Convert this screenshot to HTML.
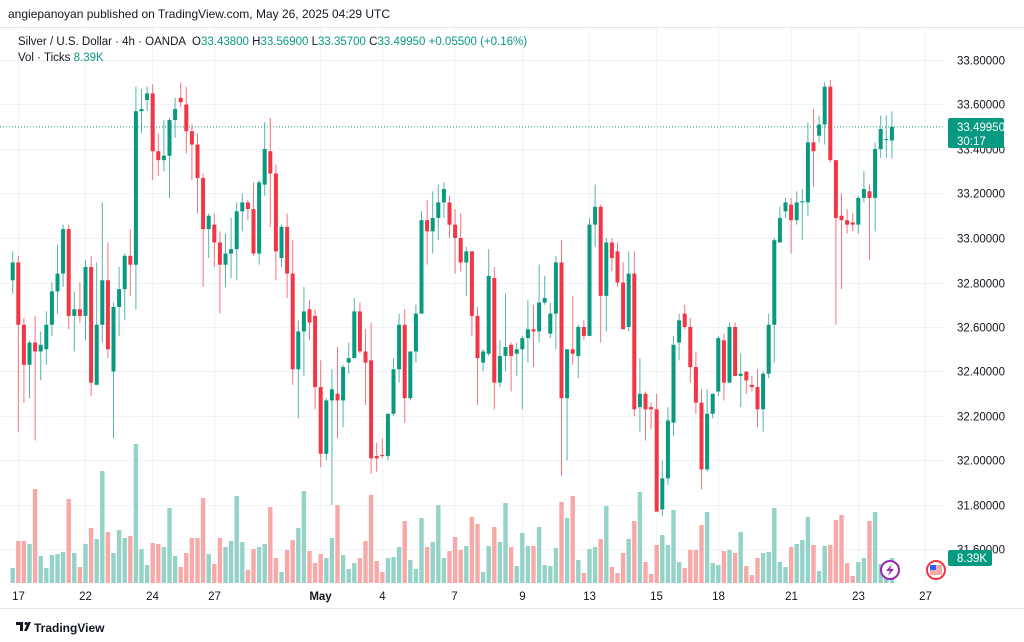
<!DOCTYPE html>
<html><head><meta charset="utf-8"><style>
html,body{margin:0;padding:0;background:#fff;}
svg{display:block;font-family:"Liberation Sans",sans-serif;}
</style></head><body>
<svg id="chart" width="1024" height="642" viewBox="0 0 1024 642" xmlns="http://www.w3.org/2000/svg">
<rect x="0" y="0" width="1024" height="642" fill="#ffffff"/>
<text x="8" y="18" font-size="12" fill="#131722">angiepanoyan published on TradingView.com, May 26, 2025 04:29 UTC</text>
<line x1="0" y1="27.5" x2="1024" y2="27.5" stroke="#e0e3eb"/>
<line x1="0" y1="608.5" x2="1024" y2="608.5" stroke="#e0e3eb"/>
<g id="grid"></g>
<g id="vols"></g>
<g id="candles"></g>
<g id="yaxis"></g>
<g id="xaxis"></g>
<g font-size="11.5">
<text x="18" y="45" fill="#131722">Silver / U.S. Dollar · 4h · OANDA</text>
<text x="192" y="45" fill="#131722">O<tspan fill="#089981">33.43800</tspan> H<tspan fill="#089981">33.56900</tspan> L<tspan fill="#089981">33.35700</tspan> C<tspan fill="#089981">33.49950</tspan> <tspan fill="#089981">+0.05500 (+0.16%)</tspan></text>
<text x="18" y="61" fill="#131722">Vol · Ticks <tspan fill="#089981">8.39K</tspan></text>
</g>
<g>
<rect x="948" y="118" width="56" height="30" rx="2" fill="#089981"/>
<text x="957" y="131" font-size="11.5" fill="#fff">33.49950</text>
<text x="957" y="145" font-size="11.5" fill="#fff">30:17</text>
</g>
<g>
<rect x="948" y="550" width="44" height="16" rx="2" fill="#089981"/>
<text x="957" y="562" font-size="11.5" fill="#fff">8.39K</text>
</g>
<g>
<circle cx="890" cy="570" r="9" fill="#fff" stroke="#9c27b0" stroke-width="2"/>
<path d="M892 564 L886 571 L890 571 L888 576 L894 569 L890 569 Z" fill="#9c27b0"/>
</g>
<g>
<circle cx="936" cy="570" r="9" fill="#fff" stroke="#f23645" stroke-width="2"/>
<rect x="930" y="565" width="12" height="10" fill="#f7a9a7"/>
<rect x="930" y="565" width="6" height="5" fill="#2962ff"/>
</g>
<g>
<path d="M16 622 h7 v9 h-3 v-6 h-4 z M24 631 l4 -9 h3 l-4 9 z" fill="#131722"/>
<circle cx="26" cy="623.5" r="1.5" fill="#131722"/>
<text x="34" y="632" font-size="12" font-weight="bold" fill="#131722">TradingView</text>
</g>
</svg>
<script>
var opens=[32.81,32.89,32.61,32.43,32.53,32.49,32.50,32.61,32.76,32.84,33.04,32.65,32.68,32.65,32.87,32.34,32.61,32.81,32.40,32.69,32.77,32.92,32.88,33.57,33.62,33.65,33.39,33.35,33.37,33.53,33.63,33.60,33.48,33.42,33.27,33.04,33.06,32.98,32.88,32.93,32.95,33.12,33.16,33.13,32.93,33.24,33.39,33.29,32.91,33.05,32.84,32.41,32.58,32.68,32.65,32.33,32.03,32.27,32.30,32.27,32.44,32.46,32.67,32.49,32.45,32.02,32.025,32.02,32.21,32.41,32.61,32.28,32.49,32.66,33.08,33.03,33.09,33.16,33.16,33.06,33.00,32.89,32.94,32.65,32.44,32.48,32.82,32.35,32.47,32.52,32.48,32.50,32.55,32.59,32.58,32.71,32.57,32.66,32.89,32.28,32.50,32.47,32.60,32.56,33.06,33.14,32.74,32.98,32.94,32.80,32.60,32.84,32.24,32.30,32.24,32.23,31.78,31.92,32.17,32.53,32.66,32.60,32.42,32.26,31.96,32.21,32.31,32.54,32.35,32.60,32.38,32.40,32.34,32.33,32.23,32.39,32.61,32.98,33.12,33.15,33.08,33.16,33.16,33.43,33.46,33.51,33.68,33.35,33.10,33.08,33.07,33.06,33.18,33.21,33.18,33.40,33.44,33.438];
var highs=[32.94,32.92,32.64,32.54,32.65,32.58,32.67,32.80,32.97,33.06,33.06,32.76,32.80,32.90,32.92,32.89,33.16,32.98,32.71,32.87,32.93,33.04,33.68,33.67,33.68,33.69,33.47,33.53,33.54,33.63,33.70,33.68,33.51,33.47,33.29,33.11,33.11,33.03,33.02,33.09,33.16,33.20,33.17,33.25,33.26,33.52,33.54,33.33,33.06,33.11,32.99,32.63,32.78,32.72,32.68,32.45,32.28,32.41,32.51,32.43,32.53,32.73,32.71,32.59,32.62,32.08,32.10,32.21,32.46,32.66,32.68,32.49,32.70,33.12,33.17,33.21,33.24,33.25,33.19,33.13,33.11,32.96,32.94,32.69,32.50,32.95,32.87,32.54,32.75,32.53,32.53,32.56,32.72,32.70,32.88,32.83,32.71,32.92,32.99,32.50,32.74,32.61,32.63,33.09,33.24,33.15,33.00,33.00,32.98,32.89,32.94,32.94,32.46,32.31,32.26,32.30,32.00,32.24,32.56,32.66,32.70,32.64,32.49,32.32,32.32,32.30,32.56,32.57,32.62,32.62,32.48,32.40,32.38,32.41,32.40,32.66,33.00,33.14,33.18,33.18,33.21,33.22,33.52,33.58,33.55,33.70,33.71,33.35,33.20,33.13,33.11,33.19,33.30,33.24,33.43,33.55,33.55,33.569];
var lows=[32.75,32.13,32.26,32.28,32.09,32.36,32.43,32.56,32.66,32.78,32.59,32.49,32.62,32.54,32.29,32.34,32.53,32.46,32.10,32.56,32.63,32.74,32.68,33.47,33.57,33.26,33.28,33.30,33.18,33.45,33.59,33.38,33.26,33.11,32.78,32.91,32.87,32.66,32.78,32.82,32.81,33.03,33.08,32.92,32.88,33.19,33.05,32.81,32.87,32.73,32.34,32.19,32.38,32.54,32.23,31.97,32.00,31.80,32.10,32.15,32.39,32.46,32.48,32.25,31.94,31.95,32.01,32.00,32.20,32.35,32.17,32.27,32.44,32.66,32.88,32.93,32.99,33.09,33.00,32.84,32.85,32.74,32.56,32.25,32.40,32.47,32.23,32.33,32.40,32.31,32.38,32.23,32.44,32.42,32.53,32.70,32.55,32.50,31.93,32.00,32.43,32.37,32.54,32.56,32.96,32.53,32.58,32.85,32.78,32.59,32.58,32.20,32.13,32.09,32.14,31.77,31.75,31.89,32.11,32.45,32.59,32.35,32.21,31.87,31.95,32.19,32.29,32.27,32.35,32.38,32.24,32.30,32.31,32.15,32.13,32.37,32.44,32.98,33.09,32.93,33.06,32.99,33.10,33.23,33.43,33.42,33.34,32.61,32.77,33.02,33.03,33.02,33.16,32.90,33.03,33.36,33.36,33.357];
var closes=[32.89,32.61,32.43,32.53,32.49,32.52,32.61,32.76,32.84,33.04,32.65,32.68,32.65,32.87,32.35,32.61,32.81,32.50,32.69,32.77,32.92,32.88,33.57,33.58,33.65,33.39,33.35,33.37,33.53,33.58,33.61,33.48,33.42,33.27,33.04,33.10,32.98,32.88,32.93,32.95,33.12,33.16,33.13,32.93,33.25,33.40,33.29,32.94,33.05,32.84,32.41,32.58,32.67,32.62,32.33,32.03,32.27,32.32,32.27,32.42,32.46,32.67,32.49,32.44,32.01,32.01,32.02,32.21,32.41,32.61,32.28,32.49,32.66,33.08,33.03,33.09,33.16,33.22,33.06,33.00,32.89,32.94,32.65,32.46,32.49,32.83,32.35,32.47,32.51,32.47,32.50,32.55,32.59,32.58,32.71,32.73,32.66,32.89,32.28,32.50,32.48,32.60,32.56,33.06,33.14,32.74,32.98,32.91,32.80,32.59,32.84,32.23,32.30,32.23,32.23,31.77,31.92,32.18,32.52,32.63,32.60,32.42,32.26,31.96,32.21,32.30,32.55,32.35,32.60,32.38,32.39,32.36,32.33,32.23,32.39,32.61,32.99,33.09,33.16,33.08,33.16,33.165,33.43,33.39,33.51,33.68,33.35,33.09,33.08,33.06,33.06,33.18,33.22,33.18,33.40,33.49,33.445,33.4995];
var volumes=[15,42,42,39,94,27,15,28,29,31,84,30,16,39,55,44,112,51,30,53,45,47,139,34,18,40,39,36,75,27,16,30,45,45,85,29,19,45,36,42,87,41,13,34,36,39,76,25,11,33,43,55,92,32,20,29,25,45,78,28,14,20,25,42,88,22,11,25,26,36,62,23,14,65,36,41,78,25,32,46,33,37,66,59,11,37,56,41,80,36,17,50,37,37,56,18,17,35,81,65,87,23,10,34,36,44,77,16,10,30,44,62,91,21,9,38,48,38,73,21,15,33,33,58,71,20,18,32,33,30,51,17,8,25,30,31,75,21,16,36,39,43,66,38,12,37,38,63,68,20,7,21,25,62,71,19,16,25];
var priceTicks=[33.8,33.6,33.4,33.2,33.0,32.8,32.6,32.4,32.2,32.0,31.8,31.6];
var timeLabels=["17","22","24","27","May","4","7","9","13","15","18","21","23","27"];
var timeLabelIdx=[1,13,25,36,55,66,79,91,103,115,126,139,151,163];
var lastPrice=33.4995;

(function(){
var NS="http://www.w3.org/2000/svg";
function xS(i){return 12.7+i*5.6;}
function yS(p){return 60+(33.8-p)*222.5;}
function vS(v){return 583-v*1.0;}
function mk(tag,attrs,parent){var e=document.createElementNS(NS,tag);for(var k in attrs)e.setAttribute(k,attrs[k]);parent.appendChild(e);return e;}
var grid=document.getElementById('grid'),vg=document.getElementById('vols'),cg=document.getElementById('candles'),ya=document.getElementById('yaxis'),xa=document.getElementById('xaxis');
priceTicks.forEach(function(p){
  var y=Math.round(yS(p))+0.5;
  var l=mk('line',{x1:0,x2:945,y1:y,y2:y,stroke:'#f0f3fa'},grid);
  
  
  var t=mk('text',{x:957,y:y+4,'font-size':11.5,fill:'#131722'},ya);
  t.textContent=p.toFixed(5);
  
  
});
timeLabels.forEach(function(s,k){
  var x=Math.round(xS(timeLabelIdx[k]-1)+5)+0.5;
  var l=mk('line',{x1:x,x2:x,y1:28,y2:585,stroke:'#f0f3fa'},grid);
  
  
  var t=mk('text',{x:x,y:600,'font-size':11.5,fill:'#131722','text-anchor':'middle','font-weight':s==='May'?'bold':'normal'},xa);
  t.textContent=s;
  
  
});
var pl=mk('line',{x1:0,x2:945,y1:yS(lastPrice),y2:yS(lastPrice),stroke:'#089981','stroke-dasharray':'1 2'},grid);


for(var i=0;i<opens.length;i++){
  var up=closes[i]>=opens[i];
  var cx=xS(i);
  var vb=mk('rect',{x:cx-2.2,y:vS(volumes[i]),width:4.4,height:583-vS(volumes[i]),fill:up?'#95d2c8':'#f7a9a7'},vg);
  
  
  var col=up?'#089981':'#f23645';
  var w=mk('line',{x1:cx,x2:cx,y1:yS(highs[i]),y2:yS(lows[i]),stroke:col,'stroke-width':1,'stroke-opacity':0.7},cg);
  
  
  var bTop=yS(Math.max(opens[i],closes[i])),bBot=yS(Math.min(opens[i],closes[i]));
  var b=mk('rect',{x:cx-2,y:bTop,width:4,height:Math.max(1,bBot-bTop),fill:col},cg);
  
  
}
})();
</script>
</body></html>
